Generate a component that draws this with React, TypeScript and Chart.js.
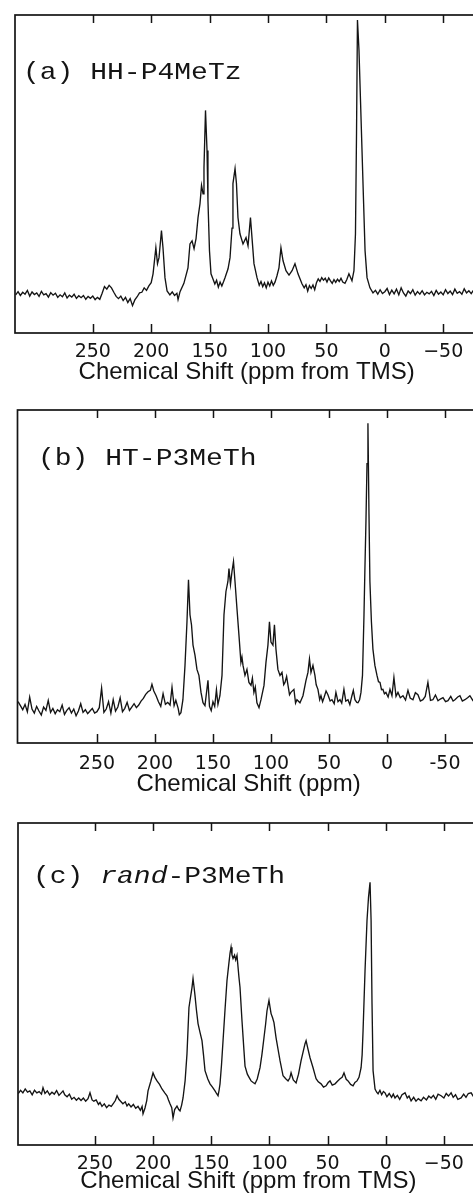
import React, { useEffect, useRef } from "react";
import { Chart, registerables } from "chart.js";

Chart.register(...registerables);

// ---------- data ----------
const tickValues = [-50, 0, 50, 100, 150, 200, 250];

// [ppm, intensity (% of frame height)]
const spectrumA: [number, number][] = [
  [316, 12.0], [314, 13.0], [312, 11.8], [310, 12.8], [308, 12.2], [306, 13.4], [304, 11.6], [302, 12.9],
  [300, 12.1], [298, 12.6], [296, 11.5], [294, 13.1], [292, 12.0], [290, 12.4], [288, 11.3], [286, 12.7],
  [284, 11.9], [282, 12.5], [280, 11.2], [278, 12.0], [276, 11.4], [274, 12.6], [272, 11.0], [270, 11.9],
  [268, 11.3], [266, 12.2], [264, 10.9], [262, 11.7], [260, 11.1], [258, 11.8], [256, 10.6], [254, 11.5],
  [252, 10.9], [250, 11.6], [248, 10.5], [246, 11.2], [244, 10.6], [242, 12.5], [240, 14.6], [238, 13.8],
  [236, 15.0], [234, 14.2], [232, 12.8], [230, 11.5], [228, 10.8], [226, 11.6], [224, 10.2], [222, 11.2],
  [220, 9.6], [218, 10.8], [216, 8.6], [214, 10.4], [212, 11.4], [210, 12.6], [208, 12.8], [206, 14.2],
  [204, 13.4], [202, 14.8], [200, 15.8], [198.4, 18.6], [196, 26.8], [194.6, 21.8], [193.3, 23.7],
  [191.2, 32.2], [189.9, 26.8], [188.2, 17.4], [186.4, 13.2], [184, 12.0], [182, 12.9], [180, 11.8],
  [178, 12.5], [177, 10.5], [175.3, 13.0], [172, 15.6], [168.5, 20.5], [166.8, 28], [165, 29], [163.3, 26.5],
  [161.6, 29.7], [159.9, 36.3], [158.2, 40.7], [156.9, 46.4], [155.6, 43.8], [154.8, 52], [153.5, 70],
  [152.2, 57.4], [151.4, 41.6], [150.1, 25.9], [148.8, 18.6], [147.1, 17], [145.5, 15.4], [144, 16.6],
  [142.5, 14.4], [141, 16.0], [139.5, 14.8], [138, 16.2], [136.8, 17.4], [134.2, 20.2], [132.5, 23.7],
  [130.8, 33], [130, 47], [128.2, 51.7], [127, 47], [125.7, 36.3], [124, 31.2], [121.4, 28], [118.8, 30],
  [117.1, 27.4], [115, 36.3], [113.7, 30], [112, 21.8], [109.4, 17.4], [107.5, 15.0], [106, 16.2],
  [104.5, 14.6], [103, 15.8], [101.5, 14.2], [100, 16.0], [98.5, 14.8], [97, 16.4], [95.5, 15.0], [94, 16.0],
  [92.3, 18], [90.6, 20.5], [88.9, 26.8], [87.1, 22.7], [84.6, 19.6], [82, 18.2], [79.4, 19.6], [76.9, 21.8],
  [74.3, 18.6], [70.9, 15.5], [69, 14.2], [67.5, 15.2], [66, 13.2], [64.5, 14.9], [63, 14.0], [61.5, 15.1],
  [60, 13.6], [58.5, 15.8], [57, 17.0], [55.5, 16.2], [54, 17.4], [52.5, 16.6], [51, 17.2], [49.5, 16.0],
  [48, 17.3], [46.5, 16.4], [45, 15.6], [43.5, 16.8], [42, 15.9], [40.5, 16.9], [39, 16.2], [37.5, 17.2],
  [36, 16.0], [34.1, 15.6], [32.5, 16.8], [30.7, 18.6], [28.1, 16.4], [26.4, 19.6], [25.1, 31.2],
  [24.2, 62.8], [23.4, 98.4], [22.1, 89], [20.8, 73.2], [19.5, 57.4], [18.2, 41.6], [16.9, 25.9],
  [15.2, 17.4], [12.7, 14.2], [10.1, 12.6], [8, 13.4], [6, 12.2], [4, 13.6], [2, 12.4], [0, 13.0],
  [-2, 14.0], [-4, 12.1], [-6, 13.5], [-8, 12.3], [-10, 13.8], [-12, 12.0], [-14, 14.2], [-16, 12.6],
  [-18, 11.6], [-20, 13.2], [-22, 12.4], [-24, 13.6], [-26, 11.9], [-28, 13.0], [-30, 12.2], [-32, 13.3],
  [-34, 12.0], [-36, 12.8], [-38, 12.3], [-40, 13.1], [-42, 11.8], [-44, 13.4], [-46, 12.2], [-48, 12.9],
  [-50, 12.0], [-52, 13.6], [-54, 12.4], [-56, 13.2], [-58, 12.1], [-60, 13.8], [-62, 12.5], [-64, 13.0],
  [-66, 12.2], [-68, 13.9], [-70, 12.6], [-72, 13.3], [-74, 12.4], [-76, 13.5], [-78, 12.7], [-80, 13.2],
];

const spectrumB: [number, number][] = [
  [318, 12.4], [316, 11.2], [314, 10.0], [312, 11.6], [310, 9.4], [308, 13.8], [306, 10.2], [304, 9.0],
  [302, 11.0], [300, 9.6], [298, 8.4], [296, 10.8], [294, 9.8], [292, 12.8], [290, 9.2], [288, 10.4],
  [286, 8.8], [284, 10.0], [282, 9.4], [280, 11.4], [278, 8.6], [276, 9.8], [274, 10.6], [272, 9.0],
  [270, 10.2], [268, 8.2], [266, 9.6], [264, 11.8], [262, 9.2], [260, 10.0], [258, 8.8], [256, 9.6],
  [254, 10.4], [252, 9.0], [250, 9.4], [248, 10.6], [246, 16.5], [244, 9.2], [242, 10.2], [240, 12.4],
  [238, 9.0], [236, 13.0], [234, 9.6], [232, 10.8], [230, 13.6], [228, 9.4], [226, 10.4], [224, 12.2],
  [222, 9.8], [220, 10.8], [218, 11.8], [216, 10.6], [214, 11.4], [212, 12.6], [210, 13.4], [208, 14.6],
  [206, 15.4], [204, 15.8], [202.6, 17.6], [201, 15.6], [199, 14.2], [197, 12.4], [195, 11.0], [193, 14.8],
  [191, 11.6], [189, 12.2], [187, 11.4], [185.3, 16.7], [183.5, 11.2], [182, 12.8], [180, 10.4], [179, 8.5],
  [177.6, 9.1], [175.9, 13], [174.1, 23.3], [172.4, 36.4], [171.1, 49], [169.8, 38.5], [168.5, 35.5],
  [167.2, 29.4], [165.5, 26.4], [163.8, 22.1], [162.1, 20.3], [160.3, 15.2], [158.6, 12.1], [156.9, 11.2],
  [154.3, 18.8], [153, 11.0], [151.5, 9.7], [150, 12.4], [148.5, 11.0], [147, 16.0], [145.7, 11.6],
  [144, 14.2], [142.2, 20.3], [140.5, 38.5], [138.8, 45.5], [137.1, 48.5], [136.2, 52.4], [134.9, 47.6],
  [133.6, 51.5], [132.3, 54.5], [131, 48.5], [129.3, 40.3], [127.6, 32.4], [125.9, 24.2], [125, 25.8],
  [124.1, 23.3], [122.4, 20.3], [120.7, 22.1], [119, 18.2], [117.2, 17.3], [116, 19.5], [114.7, 15.2],
  [113.5, 16.8], [112.1, 12.1], [110.3, 10.6], [108.6, 13], [106, 17.3], [104.3, 24.2], [102.6, 29.4],
  [101.3, 36.4], [100, 30.3], [98.3, 29.4], [97, 35.5], [95.7, 28.2], [94, 22.1], [92.2, 20.3],
  [90.5, 21.2], [89, 17.5], [87.9, 18.2], [86.5, 20.0], [85.3, 17.3], [84, 14.5], [82.8, 15.2],
  [80.2, 16.1], [78.8, 12.0], [77.6, 13], [75, 12.1], [72.4, 14.2], [69.8, 18.8], [68.1, 21.2],
  [66.8, 25.2], [65.5, 21.2], [63.8, 23.3], [62.1, 20.3], [61, 17.5], [59.5, 16.1], [58, 13.0],
  [56.9, 14.2], [55.5, 12.4], [54.3, 13.6], [52.5, 15.6], [50.9, 14.5], [49, 12.6], [47.4, 13],
  [45.5, 11.8], [44, 15.2], [42.2, 12.4], [40.5, 13], [39, 12.0], [37.1, 16.1], [35.5, 12.6], [33.6, 13],
  [32, 11.5], [30.2, 14.2], [29, 15.8], [27.6, 13], [26, 12.2], [25, 12.1], [23.6, 13.0], [22.4, 15.2],
  [21.1, 20.3], [19.8, 38.5], [19, 52.4], [18.1, 66.7], [17.2, 83.9], [16.4, 96], [15.5, 68.8],
  [14.7, 48.5], [13.4, 36.4], [12.1, 28.2], [10.4, 23.3], [8.6, 20.3], [7.3, 18.4], [6, 18.2], [4.7, 16.0],
  [3.5, 16.1], [2.2, 14.8], [0.9, 15.2], [-1, 13.8], [-2.6, 16.1], [-4.3, 14.2], [-6, 19.7], [-7.8, 14.0],
  [-9.5, 15.2], [-11.5, 13.6], [-13.8, 14.2], [-16, 12.9], [-18.1, 15.8], [-20, 13.5], [-22.4, 13],
  [-24.5, 15.1], [-26.7, 14.5], [-28.8, 12.6], [-31, 13], [-33, 14.0], [-35.3, 18.2], [-37.5, 12.8],
  [-39.6, 13], [-41.8, 14.4], [-44, 12.7], [-46, 13.2], [-48.3, 13.6], [-50.5, 12.4], [-52.6, 12.7],
  [-55, 14.0], [-57, 12.6], [-58.6, 13], [-61, 13.8], [-62.9, 14.2], [-65, 12.6], [-67.2, 13],
  [-69.5, 13.6], [-71.5, 14.2], [-74, 12.8], [-76, 13.4], [-78, 12.6], [-80, 13.6],
];

const spectrumC: [number, number][] = [
  [316, 16.0], [314, 17.0], [312, 16.2], [310, 17.4], [308, 16.4], [306, 16.8], [304, 15.6], [302, 17.0],
  [300, 16.2], [298, 16.6], [296, 15.8], [294.7, 17.8], [293, 16.0], [291, 16.8], [289, 15.6], [287, 16.4],
  [285, 15.8], [283, 16.9], [281, 15.4], [279, 16.2], [277.5, 16.8], [276, 15.6], [274, 15.0], [272, 15.8],
  [270, 14.2], [268, 14.8], [266, 13.9], [264, 14.6], [262, 13.8], [260, 14.6], [258, 13.6], [256, 14.4],
  [254.3, 16.2], [252.5, 14.0], [251, 13.6], [249, 14.0], [247, 12.6], [245.7, 13.2], [244, 12.0],
  [242, 12.8], [240, 11.6], [238, 12.4], [236, 12.0], [234, 13.0], [232.5, 13.8], [231, 15.3],
  [229.5, 14.2], [228, 13.6], [226, 12.8], [224, 13.4], [222.5, 12.1], [221, 12.8], [219, 11.8],
  [217, 12.6], [215, 11.4], [213, 12.0], [211, 10.8], [209.5, 12.0], [208.7, 9.7], [207, 11.5],
  [205.5, 13.8], [204.4, 16.8], [202, 19.8], [200.1, 22.4], [198.5, 21.0], [196.7, 19.9], [194.5, 18.8],
  [192.4, 17.4], [190, 16.2], [188.1, 15.3], [186.8, 14.0], [185.5, 12.8], [184, 11.6], [182.9, 8.4],
  [181.5, 11.0], [179.5, 12.1], [178, 11.0], [176.9, 10.6], [175.5, 12.4], [174.3, 14.6], [172.5, 20.0],
  [170.9, 28.3], [169.2, 42.7], [166.6, 48.9], [165.7, 51.7], [164.8, 49.0], [164, 46.4], [162.8, 42.0],
  [161.4, 37.7], [159.7, 35.0], [158, 32.4], [156.7, 28.0], [155.4, 23.1], [153, 20.5], [151.1, 19],
  [149, 18.0], [146.8, 16.8], [145.5, 16.0], [144.2, 15.3], [143.3, 17.0], [142.5, 19], [141.2, 25.0],
  [139.9, 32.4], [138.2, 42.0], [136.5, 51.1], [135, 56.0], [133.9, 59.5], [133, 61.4], [132.2, 59.0],
  [131.3, 57.9], [130, 59.0], [129, 57.5], [127.9, 58.9], [126.2, 52], [125.3, 48.9], [123.6, 38.6],
  [121.9, 29.3], [121, 24.5], [119, 22.0], [117.5, 21.0], [115.8, 19.9], [114, 19.4], [112.4, 19],
  [110.5, 20.5], [108.1, 24], [106.5, 28.0], [104.7, 33.3], [103.3, 37.5], [102.1, 41.7], [100.4, 44.9],
  [99.5, 42.8], [98.6, 40.8], [97.3, 39.5], [96.1, 38], [94.3, 33.3], [92.5, 29.5], [90.9, 26.2],
  [88.3, 21.5], [86, 20.6], [84, 19.9], [82.5, 20.8], [81.4, 22.4], [79.5, 20.2], [77.1, 19.3], [75, 22.0],
  [72.8, 26.2], [71, 29.0], [69.4, 31.5], [68.5, 32.4], [67, 30.0], [65.1, 27.1], [62.5, 24], [61, 22.0],
  [59.9, 20.6], [58, 19.6], [55.6, 19], [53.5, 18.0], [51.3, 18.4], [49.5, 19.4], [47.9, 19.9], [46, 18.6],
  [43.6, 19], [41.5, 19.8], [39.3, 20.6], [37.5, 21.0], [35.9, 22.4], [34, 20.4], [32.4, 19.9],
  [30.2, 18.8], [28.1, 18.4], [26.5, 19.4], [24.7, 19.9], [23, 21.0], [21.2, 24], [20.3, 28.0],
  [19.5, 35.5], [17.8, 54.2], [16.1, 69.8], [14.8, 77.0], [13.5, 81.6], [12.6, 69.8], [11.8, 43.9],
  [10.9, 23.1], [9.2, 17.4], [7.8, 16.4], [6.6, 15.9], [5, 17.0], [3.5, 15.6], [2, 16.6], [0.6, 16.2],
  [-1, 15.0], [-3, 16.0], [-5, 14.8], [-6.5, 15.8], [-8, 14.6], [-10, 15.4], [-12, 14.2], [-14, 15.6],
  [-16.6, 16.2], [-18.5, 14.6], [-20, 15.2], [-21.8, 13.7], [-24, 14.8], [-26, 13.6], [-28, 14.4],
  [-30.4, 13.7], [-32.5, 14.8], [-35, 14.0], [-37, 15.2], [-39, 14.6], [-41, 15.4], [-43, 14.2],
  [-45, 15.8], [-47.6, 15.3], [-50, 14.6], [-52, 16.0], [-54, 15.2], [-56.2, 16.2], [-58, 14.8],
  [-60, 15.6], [-62, 14.2], [-64.8, 14.6], [-67, 15.8], [-69, 14.8], [-71, 16.0], [-73.4, 16.2],
  [-75.5, 15.0], [-78, 16.4], [-80, 15.6],
];

const labelA = [{ text: "(a) HH-P4MeTz", italic: false }];
const labelB = [{ text: "(b) HT-P3MeTh", italic: false }];
const labelC = [
  { text: "(c) ", italic: false },
  { text: "rand", italic: true },
  { text: "-P3MeTh", italic: false },
];
const titleA = "Chemical Shift (ppm from TMS)";
const titleB = "Chemical Shift (ppm)";
const titleC = "Chemical Shift (ppm from TMS)";

// ---------- layout / style ----------
const CANVAS_W = 495;
const INK = "#141414";
const SANS = "'Liberation Sans', Arial, Helvetica, sans-serif";
const TICK_FAMILY = "'DejaVu Sans', 'Liberation Sans', Arial, sans-serif";
const MONO = "'Liberation Mono', 'Courier New', monospace";
const PPM_RIGHT = -80;

type Panel = {
  data: [number, number][];
  label: { text: string; italic: boolean }[];
  title: string;
  minus: string;
  top: number;
  height: number;
  frameTop: number;
  frameLeft: number;
  ppmLeft: number;
  pxPerPpm: number;
  tickPad: number;
  titlePadTop: number;
  labelX: number;
  labelBaseline: number;
};

const panels: Panel[] = [
  { data: spectrumA, label: labelA, title: titleA, minus: "\u2212", top: 0, height: 384, frameTop: 15,
    frameLeft: 15, ppmLeft: 316.6, pxPerPpm: 1.168, tickPad: 10, titlePadTop: -12, labelX: 23, labelBaseline: 79 },
  { data: spectrumB, label: labelB, title: titleB, minus: "-", top: 395, height: 401, frameTop: 410,
    frameLeft: 17.5, ppmLeft: 318.5, pxPerPpm: 1.16, tickPad: 12, titlePadTop: -14, labelX: 38, labelBaseline: 465 },
  { data: spectrumC, label: labelC, title: titleC, minus: "\u2212", top: 808, height: 385, frameTop: 823,
    frameLeft: 18, ppmLeft: 316.2, pxPerPpm: 1.163, tickPad: 9.5, titlePadTop: -14, labelX: 33, labelBaseline: 883 },
];

const TICK_FONT = 19;
const TITLE_FONT = 24;

const framePlugin = {
  id: "nmrFrame",
  afterDraw(chart: any, _args: any, opts: any) {
    const { ctx, chartArea } = chart;
    const { left, right, top, bottom } = chartArea;
    const xs = chart.scales.x;
    ctx.save();
    ctx.strokeStyle = INK;
    ctx.lineWidth = 1.7;
    ctx.strokeRect(left, top, right - left, bottom - top);
    ctx.lineWidth = 1.5;
    xs.ticks.forEach((t: any) => {
      const px = Math.round(xs.getPixelForValue(t.value)) + 0.5;
      ctx.beginPath();
      ctx.moveTo(px, bottom);
      ctx.lineTo(px, bottom - 9);
      ctx.moveTo(px, top);
      ctx.lineTo(px, top + 8);
      ctx.stroke();
    });
    // panel label
    const canvasTop = opts.canvasTop;
    ctx.fillStyle = INK;
    ctx.textBaseline = "alphabetic";
    ctx.textAlign = "left";
    ctx.translate(opts.x, opts.baseline - canvasTop);
    ctx.scale(1.167, 1);
    let cx = 0;
    opts.segments.forEach((s: any) => {
      ctx.font = `${s.italic ? "italic " : ""}24px ${MONO}`;
      ctx.fillText(s.text, cx, 0);
      cx += ctx.measureText(s.text).width;
    });
    ctx.restore();
  },
};

function PanelChart({ p }: { p: Panel }) {
  const ref = useRef<HTMLCanvasElement>(null);
  const height = p.height;
  const rightPx = p.frameLeft + (p.ppmLeft - PPM_RIGHT) * p.pxPerPpm;

  useEffect(() => {
    const chart = new Chart(ref.current as HTMLCanvasElement, {
      type: "line",
      data: {
        datasets: [
          {
            data: p.data.map(([x, y]) => ({ x, y })),
            borderColor: INK,
            borderWidth: 1.35,
            pointRadius: 0,
            tension: 0,
            fill: false,
          },
        ],
      },
      options: {
        animation: false,
        responsive: false,
        events: [],
        layout: {
          padding: { left: p.frameLeft, right: CANVAS_W - rightPx, top: p.frameTop - p.top, bottom: 0 },
        },
        plugins: {
          legend: { display: false },
          tooltip: { enabled: false },
          nmrFrame: {
            segments: p.label,
            x: p.labelX,
            baseline: p.labelBaseline,
            canvasTop: p.top,
          },
        } as any,
        scales: {
          x: {
            type: "linear",
            reverse: true,
            min: PPM_RIGHT,
            max: p.ppmLeft,
            afterBuildTicks: (axis: any) => {
              axis.ticks = tickValues.map((v) => ({ value: v }));
            },
            ticks: {
              autoSkip: false,
              maxRotation: 0,
              padding: p.tickPad,
              color: INK,
              font: { family: TICK_FAMILY, size: TICK_FONT, lineHeight: 1 },
              callback: (v: any) => (v < 0 ? p.minus + String(Math.abs(v)) : String(v)),
            },
            grid: { display: false, drawTicks: false },
            border: { display: false },
            title: {
              display: true,
              text: p.title,
              color: INK,
              font: { family: SANS, size: TITLE_FONT, lineHeight: 1 },
              padding: { top: p.titlePadTop, bottom: 0 },
            },
          },
          y: { display: false, min: 0, max: 100 },
        },
      },
      plugins: [framePlugin],
    } as any);
    return () => chart.destroy();
  }, []);

  return (
    <canvas
      ref={ref}
      width={CANVAS_W}
      height={height}
      style={{ position: "absolute", left: 0, top: p.top, width: CANVAS_W, height }}
    />
  );
}

export default function App() {
  return (
    <div
      style={{
        position: "absolute",
        left: 0,
        top: 0,
        width: 473,
        height: 1199,
        overflow: "hidden",
        background: "#fff",
      }}
    >
      {panels.map((p, i) => (
        <PanelChart key={i} p={p} />
      ))}
    </div>
  );
}
